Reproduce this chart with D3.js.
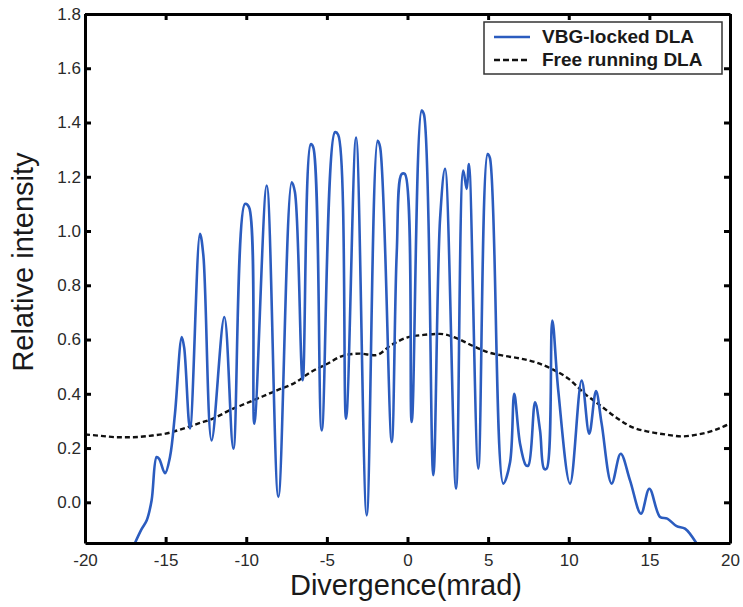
<!DOCTYPE html>
<html><head><meta charset="utf-8">
<script src="https://cdn.jsdelivr.net/npm/d3@7"></script>
<style>html,body{margin:0;padding:0;background:#fff;}</style>
</head><body>
<script>
const xTicks = [-20,-15,-10,-5,0,5,10,15,20];
const yTicks = [0.0,0.2,0.4,0.6,0.8,1.0,1.2,1.4,1.6,1.8];
const seriesNames = ["VBG-locked DLA","Free running DLA"];

const vbgX = [-16.9,-16.5,-16.17,-15.87,-15.56,-15.4,-15.04,-14.73,-14.42,-14.0,-13.85,-13.49,-12.87,-12.66,-12.15,-11.36,-10.8,-10.08,-9.83,-9.5,-8.73,-8.01,-7.18,-6.98,-6.5,-6.0,-5.85,-5.32,-4.5,-4.3,-3.81,-3.19,-2.53,-1.85,-1.7,-0.98,-0.67,-0.36,-0.16,0.26,0.88,1.02,1.6,2.02,2.33,3.01,3.46,3.67,3.81,4.39,4.97,5.11,5.94,6.36,6.62,6.98,7.35,7.5,7.91,8.22,8.47,8.63,8.98,9.35,10.08,10.8,11.27,11.69,12.04,12.66,13.22,13.8,14.48,15.0,15.66,16.11,16.69,17.21,17.93];
const vbgY = [-0.15,-0.1,-0.066,0.007,0.167,0.16,0.107,0.167,0.327,0.609,0.57,0.272,0.99,0.91,0.228,0.683,0.198,1.10,1.088,0.29,1.168,0.02,1.18,1.143,0.45,1.32,1.31,0.265,1.364,1.355,0.308,1.345,-0.048,1.333,1.31,0.222,0.916,1.21,1.21,0.296,1.444,1.43,0.1,1.045,1.229,0.05,1.223,1.155,1.247,0.124,1.284,1.27,0.069,0.148,0.40,0.216,0.136,0.136,0.369,0.265,0.124,0.124,0.67,0.412,0.069,0.449,0.253,0.41,0.29,0.069,0.179,0.081,-0.042,0.05,-0.054,-0.06,-0.088,-0.097,-0.152];

const freeX = [-20,-19,-18,-17,-16,-15,-14,-13,-12,-11,-10,-9,-8,-7,-6,-5,-4,-3,-2,-1,0,1,2,3,4,5,6,7,8,9,10,11,12,13,14,15,16,17,18,19,20];
const freeY = [0.25,0.245,0.24,0.24,0.245,0.253,0.27,0.29,0.31,0.34,0.365,0.39,0.415,0.44,0.48,0.51,0.54,0.548,0.542,0.58,0.608,0.617,0.621,0.606,0.578,0.553,0.54,0.53,0.515,0.49,0.455,0.40,0.355,0.31,0.275,0.26,0.25,0.243,0.25,0.265,0.29];

const W = 743, H = 607;
const L = 85, R = 730, T = 14, B = 543;
const svg = d3.select("body").append("svg").attr("width", W).attr("height", H)
  .style("font-family", "'Liberation Sans', Arial, sans-serif");

const x = d3.scaleLinear().domain([-20,20]).range([L,R]);
const y = d3.scaleLinear().domain([-0.15,1.8]).range([B,T]);

svg.append("clipPath").attr("id","clip").append("rect")
  .attr("x",L).attr("y",T).attr("width",R-L).attr("height",B-T);

const freeLine = d3.line().curve(d3.curveMonotoneX);
const vbgLine = d3.line().curve(d3.curveCatmullRom.alpha(0.5));

const freePts = freeX.map((v,i)=>[x(v), y(freeY[i])]);
const vbgPts = vbgX.map((v,i)=>[x(v), y(vbgY[i])]);

svg.append("path").attr("clip-path","url(#clip)").attr("d", freeLine(freePts))
  .attr("fill","none").attr("stroke","#111").attr("stroke-width",2.4).attr("stroke-dasharray","5,3");
svg.append("path").attr("clip-path","url(#clip)").attr("d", vbgLine(vbgPts))
  .attr("fill","none").attr("stroke","#2b5cbf").attr("stroke-width",2.6).attr("stroke-linejoin","round");

function styleAxis(g){
  g.select(".domain").attr("stroke","#000").attr("stroke-width",3);
  g.selectAll(".tick line").attr("stroke","#000").attr("stroke-width",3);
  g.selectAll(".tick text").attr("fill","#2a2a2a").style("font-size","17px");
}

svg.append("g").attr("transform",`translate(0,${B})`)
  .call(d3.axisBottom(x).tickValues(xTicks).tickSizeInner(-6).tickSizeOuter(0).tickPadding(11).tickFormat(d => String(d)))
  .call(styleAxis);
svg.append("g").attr("transform",`translate(0,${T})`)
  .call(d3.axisTop(x).tickValues(xTicks).tickSizeInner(-6).tickSizeOuter(0).tickFormat(""))
  .call(styleAxis);
svg.append("g").attr("transform",`translate(${L},0)`)
  .call(d3.axisLeft(y).tickValues(yTicks).tickSizeInner(-6).tickSizeOuter(0).tickPadding(4).tickFormat(d => d.toFixed(1)))
  .call(styleAxis);
svg.append("g").attr("transform",`translate(${R},0)`)
  .call(d3.axisRight(y).tickValues(yTicks).tickSizeInner(-6).tickSizeOuter(0).tickFormat(""))
  .call(styleAxis);

// Titles
svg.append("text").attr("x",406).attr("y",595).attr("text-anchor","middle")
  .style("font-size","29px").attr("fill","#1a1a1a").text("Divergence(mrad)");
svg.append("text").attr("transform","translate(33,262) rotate(-90)").attr("text-anchor","middle")
  .style("font-size","29px").attr("fill","#1a1a1a").text("Relative intensity");

// Legend
const lg = svg.append("g");
lg.append("rect").attr("x",484).attr("y",22).attr("width",238).attr("height",52)
  .attr("fill","#fff").attr("stroke","#333").attr("stroke-width",1.5);
lg.append("line").attr("x1",494).attr("x2",530).attr("y1",37).attr("y2",37)
  .attr("stroke","#2b5cbf").attr("stroke-width",2.6);
lg.append("line").attr("x1",494).attr("x2",530).attr("y1",60).attr("y2",60)
  .attr("stroke","#111").attr("stroke-width",2.6).attr("stroke-dasharray","6,3");
lg.append("text").attr("x",542).attr("y",43).style("font-size","19px").style("font-weight","bold")
  .attr("fill","#1a1a1a").text(seriesNames[0]);
lg.append("text").attr("x",542).attr("y",66).style("font-size","19px").style("font-weight","bold")
  .attr("fill","#1a1a1a").text(seriesNames[1]);
</script>
</body></html>
